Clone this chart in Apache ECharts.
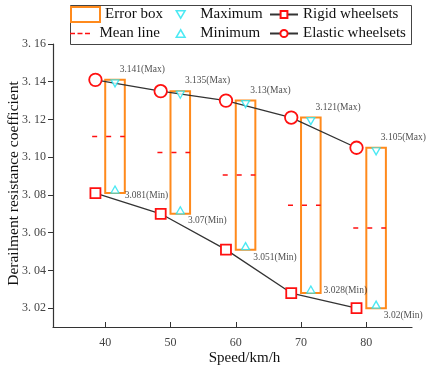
<!DOCTYPE html>
<html>
<head>
<meta charset="utf-8">
<script src="https://cdn.jsdelivr.net/npm/echarts@6/dist/echarts.min.js"></script>
<style>
  html, body { margin: 0; padding: 0; background: #fff; }
  #chart { width: 428px; height: 371px; }
</style>
</head>
<body>
<div id="chart"></div>
<script>
// Speeds (km/h) where the wheelset curves are sampled
const lineSpeeds = [38.5, 48.5, 58.5, 68.5, 78.5];
// Speeds (km/h) at the centre of each error box
const boxSpeeds = [41.5, 51.5, 61.5, 71.5, 81.5];

// Derailment resistance coefficient
const rigidValues = [3.081, 3.070, 3.051, 3.028, 3.020];
const elasticValues = [3.141, 3.135, 3.130, 3.121, 3.105];
const maxValues = [3.141, 3.135, 3.130, 3.121, 3.105];
const minValues = [3.081, 3.070, 3.051, 3.028, 3.020];
const meanValues = [3.111, 3.1025, 3.0905, 3.0745, 3.0625];

// Axis tick positions
const xTicks = [40, 50, 60, 70, 80];
const yTicks = [3.02, 3.04, 3.06, 3.08, 3.10, 3.12, 3.14, 3.16];

// Label nudges (px) for the minimum annotations
const minLabelDx = [9, 7, 7, 12, 7];
const minLabelDy = [3, 7, 8, -2, 8];

const SERIF = '"Liberation Serif", "Times New Roman", serif';
const ORANGE = '#ff8a1c';
const CYAN = '#1fe3f0';
const RED = '#ff1010';
const LINE = '#333333';
const TRI_DOWN = 'path://M0,0 L10,0 L5,8.5 Z';
const TRI_UP = 'path://M5,0 L10,8.5 L0,8.5 Z';
const DASH3 = 'path://M0,0h5v1.5h-5z M7.5,0h5v1.5h-5z M15,0h5v1.5h-5z';
const BOX_HALF = 1.5;

const chart = echarts.init(document.getElementById('chart'), null, { renderer: 'canvas' });

const legendText = { fontFamily: SERIF, fontSize: 15, color: '#111' };
function legendAt(left, top, item, w, h, text) {
  return {
    left: left, top: top, padding: 0, itemWidth: w, itemHeight: h,
    textStyle: text || legendText, selectedMode: false, data: [item]
  };
}
const shiftedText = Object.assign({}, legendText, { padding: [0, 0, 0, 10] });

const option = {
  animation: false,
  backgroundColor: '#fff',
  grid: { left: 53, right: 16, top: 44, bottom: 44, outerBoundsMode: 'none', containLabel: false },
  legend: [
    legendAt(70, 6, { name: 'Error box', icon: 'rect',
      itemStyle: { color: '#fff', borderColor: ORANGE, borderWidth: 2 } }, 29, 15),
    legendAt(70, 26, { name: 'Mean line', icon: DASH3,
      itemStyle: { color: RED } }, 29, 1.5),
    legendAt(175.5, 7, { name: 'Maximum', icon: TRI_DOWN,
      itemStyle: { color: '#fff', borderColor: CYAN, borderWidth: 1.5 } }, 9, 7.5, shiftedText),
    legendAt(175.5, 26, { name: 'Minimum', icon: TRI_UP,
      itemStyle: { color: '#fff', borderColor: CYAN, borderWidth: 1.5 } }, 9, 7.5, shiftedText),
    legendAt(269, 7, { name: 'Rigid wheelsets' }, 28, 8.5),
    legendAt(269, 26, { name: 'Elastic wheelsets' }, 28, 9)
  ],
  graphic: [{
    type: 'rect', left: 68, top: 3, z: -1,
    shape: { width: 341, height: 39 },
    style: { fill: 'none', stroke: '#444', lineWidth: 1 }
  }],
  xAxis: {
    type: 'value', min: 32, max: 87,
    name: 'Speed/km/h', nameLocation: 'middle', nameGap: 24, nameMoveOverlap: false,
    nameTextStyle: { fontFamily: SERIF, fontSize: 15, color: '#111', padding: [0, 0, 0, 24] },
    axisLine: { lineStyle: { color: LINE, width: 1.2 } },
    axisTick: { inside: true, length: 5, customValues: xTicks, lineStyle: { color: LINE } },
    axisLabel: { customValues: xTicks, fontFamily: SERIF, fontSize: 12, color: '#444', margin: 10 },
    splitLine: { show: false }
  },
  yAxis: {
    type: 'value', min: 3.01, max: 3.16,
    name: 'Derailment resistance coefficient', nameLocation: 'middle', nameGap: 31,
    nameMoveOverlap: false,
    nameTextStyle: { fontFamily: SERIF, fontSize: 15.5, color: '#111', padding: [0, 0, 0, 4] },
    axisLine: { show: true, lineStyle: { color: LINE, width: 1.2 } },
    axisTick: { show: true, inside: false, length: 5, customValues: yTicks, lineStyle: { color: LINE } },
    axisLabel: {
      customValues: yTicks, fontFamily: SERIF, fontSize: 12, color: '#444', margin: 7,
      formatter: v => v.toFixed(2).replace('.', '. ')
    },
    splitLine: { show: false }
  },
  series: [
    {
      name: 'Error box', type: 'custom', z: 2,
      data: boxSpeeds.map((s, i) => [s, minValues[i], maxValues[i]]),
      encode: { x: 0, y: [1, 2] },
      renderItem: (params, api) => {
        const p0 = api.coord([api.value(0) - BOX_HALF, api.value(2)]);
        const p1 = api.coord([api.value(0) + BOX_HALF, api.value(1)]);
        return {
          type: 'rect',
          shape: { x: p0[0], y: p0[1], width: p1[0] - p0[0], height: p1[1] - p0[1] },
          style: { fill: 'none', stroke: ORANGE, lineWidth: 2 }
        };
      }
    },
    {
      name: 'Mean line', type: 'custom', z: 3,
      data: boxSpeeds.map((s, i) => [s, meanValues[i]]),
      encode: { x: 0, y: 1 },
      renderItem: (params, api) => {
        const a = api.coord([api.value(0) - 3.5, api.value(1)]);
        const b = api.coord([api.value(0) + BOX_HALF, api.value(1)]);
        return {
          type: 'line',
          shape: { x1: a[0], y1: a[1], x2: b[0], y2: b[1] },
          style: { stroke: RED, lineWidth: 1.5, lineDash: [5, 9] }
        };
      }
    },
    {
      name: 'Rigid wheelsets', type: 'line', z: 4,
      data: lineSpeeds.map((s, i) => [s, rigidValues[i]]),
      symbol: 'rect', symbolSize: 10,
      lineStyle: { color: LINE, width: 1.3 },
      itemStyle: { color: '#fff', borderColor: RED, borderWidth: 1.8 }
    },
    {
      name: 'Elastic wheelsets', type: 'line', z: 4,
      data: lineSpeeds.map((s, i) => [s, elasticValues[i]]),
      symbol: 'circle', symbolSize: 12.5,
      lineStyle: { color: LINE, width: 1.3 },
      itemStyle: { color: '#fff', borderColor: RED, borderWidth: 1.8 }
    },
    {
      name: 'Maximum', type: 'scatter', z: 5,
      data: boxSpeeds.map((s, i) => [s, maxValues[i]]),
      symbol: TRI_DOWN, symbolSize: [8, 7], symbolOffset: [0, 3.5],
      itemStyle: { color: '#fff', borderColor: CYAN, borderWidth: 1.3 },
      label: {
        show: true, position: 'right', distance: 2, offset: [-2, -14],
        fontFamily: SERIF, fontSize: 9.5, color: '#222',
        formatter: p => p.value[1] + '(Max)'
      }
    },
    {
      name: 'Minimum', type: 'scatter', z: 5,
      data: boxSpeeds.map((s, i) => ({
        value: [s, minValues[i]],
        label: { offset: [minLabelDx[i] - 6, minLabelDy[i] + 3] }
      })),
      symbol: TRI_UP, symbolSize: [8, 7], symbolOffset: [0, -3.5],
      itemStyle: { color: '#fff', borderColor: CYAN, borderWidth: 1.3 },
      label: {
        show: true, position: 'right', distance: 2,
        fontFamily: SERIF, fontSize: 9.5, color: '#222',
        formatter: p => p.value[1] + '(Min)'
      }
    }
  ]
};

chart.setOption(option);
</script>
</body>
</html>
